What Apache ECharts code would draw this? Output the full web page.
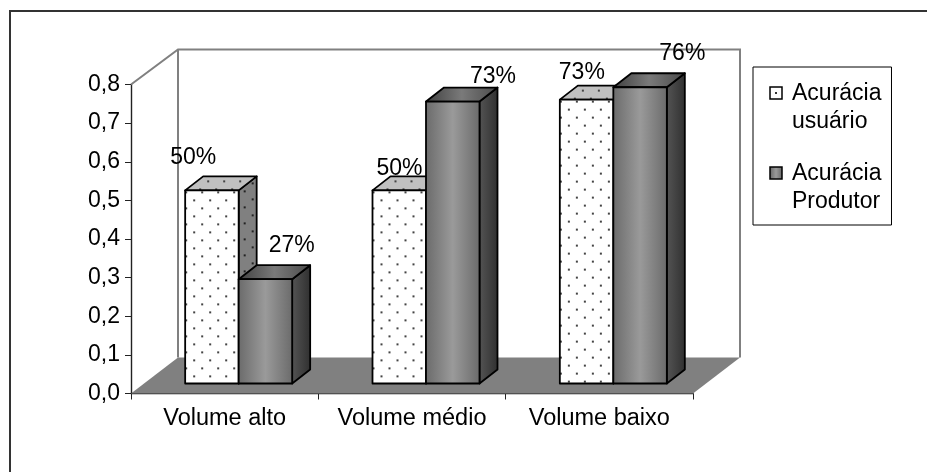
<!DOCTYPE html>
<html><head><meta charset="utf-8">
<style>html,body{margin:0;padding:0;background:#fff}#c{width:927px;height:472px}</style>
<script src="https://cdn.jsdelivr.net/npm/echarts@6/dist/echarts.min.js"></script>
</head><body><div id="c"></div>
<script>
const categories = ['Volume alto', 'Volume médio', 'Volume baixo'];
const seriesNames = ['Acurácia\nusuário', 'Acurácia\nProdutor'];
const usuarioValues = [0.50, 0.50, 0.735];
const produtorValues = [0.27, 0.73, 0.767];
const usuarioLabels = ['50%', '50%', '73%'];
const produtorLabels = ['27%', '73%', '76%'];
const yTicks = {min: 0, max: 0.8, interval: 0.1};

const FONT = '"Liberation Sans", Arial, sans-serif';
const FS = 23;
const WALL = {dx: 47, dy: -36};
const BAR = {dx: 18, dy: -14, w: 53.5, shiftX: -39.5, shiftY: -10};
const usuarioNudge = [[8,-32.5],[27,-21.5],[22,-26.5]];
const produtorNudge = [[53,-33.5],[67,-24.5],[69,-33.5]];

function dots(bg, dot) {
  const c = document.createElement('canvas'); c.width = 16; c.height = 16;
  const g = c.getContext('2d');
  g.fillStyle = bg; g.fillRect(0,0,16,16);
  g.fillStyle = dot;
  g.fillRect(0,0,2,2); g.fillRect(8,8,2,2);
  return c;
}
const pFront = dots('#fff', '#444'), pSide = dots('#808080', '#222'), pTop = dots('#c0c0c0', '#444');
const grad = (x2, y2, stops) => ({type:'linear', x:0, y:0, x2, y2, colorStops: stops.map((c,i)=>({offset:i/(stops.length-1), color:c}))});
const gFront = grad(1,0,['#6a6a6a','#9a9a9a','#6a6a6a']);
const gSide = grad(1,0,['#555','#2f2f2f']);
const gTop = grad(1,0,['#3f3f3f','#7a7a7a','#4a4a4a']);

function box(x, y, w, h, dx, dy, fFront, fSide, fTop) {
  const st = f => ({fill: f, stroke:'#000', lineWidth:1.8, lineJoin:'round'});
  const b = y + h;
  return [
    {type:'polygon', shape:{points:[[x+w,y],[x+w+dx,y+dy],[x+w+dx,b+dy],[x+w,b]]}, style: st(fSide)},
    {type:'polygon', shape:{points:[[x,y],[x+dx,y+dy],[x+w+dx,y+dy],[x+w,y]]}, style: st(fTop)},
    {type:'rect', shape:{x,y,width:w,height:h}, style: st(fFront)}
  ];
}
function barRender(serieIdx, labels, nudge) {
  return function (params, api) {
    const i = api.value(0), v = api.value(1);
    const c0 = api.coord([i, 0]), c1 = api.coord([i, v]);
    const left = c0[0] + BAR.shiftX + serieIdx * BAR.w;
    const top = c1[1] + BAR.shiftY, bottom = c0[1] + BAR.shiftY;
    const w = BAR.w, h = bottom - top;
    const pat = (img, ox, oy) => ({image: img, repeat:'repeat', x: ox, y: oy});
    const faces = serieIdx === 0
      ? box(left, top, w, h, BAR.dx, BAR.dy, pat(pFront, left+8, top+9), pat(pSide, left+w+5, top), pat(pTop, left+6, top-10))
      : box(left, top, w, h, BAR.dx, BAR.dy, gFront, gSide, gTop);
    faces.push({type:'text', style:{text: labels[i], x: left + nudge[i][0], y: top + nudge[i][1], align:'center', verticalAlign:'middle', font:`${FS}px ${FONT}`, fill:'#000'}});
    return {type:'group', children: faces};
  };
}
function wallRender(params, api) {
  const s = params.coordSys, L = s.x, R = s.x + s.width, T = s.y, B = s.y + s.height;
  const g = {stroke:'#808080', lineWidth:2, fill:null};
  return {type:'group', children:[
    {type:'polygon', shape:{points:[[L,B],[L+WALL.dx,B+WALL.dy],[R+WALL.dx,B+WALL.dy],[R,B]]}, style:{fill:'#808080'}},
    {type:'polyline', shape:{points:[[L,T],[L+WALL.dx,T+WALL.dy+1],[R+WALL.dx,T+WALL.dy+1],[R+WALL.dx,B+WALL.dy]]}, style:g},
    {type:'line', shape:{x1:L+WALL.dx,y1:T+WALL.dy+1,x2:L+WALL.dx,y2:B+WALL.dy}, style:g}
  ]};
}
function legendIcon(paint) {
  const c = document.createElement('canvas'); c.width = 14; c.height = 56;
  const g = c.getContext('2d');
  g.fillStyle = '#fff'; g.fillRect(0,0,14,56);
  paint(g);
  g.strokeStyle = '#000'; g.lineWidth = 1.5; g.strokeRect(1,7,12,12);
  return 'image://' + c.toDataURL();
}
const iconA = legendIcon(g => { g.fillStyle='#333'; g.fillRect(6,12,2,2); });
const iconB = legendIcon(g => { const l=g.createLinearGradient(1,0,13,0); l.addColorStop(0,'#6a6a6a'); l.addColorStop(.5,'#9a9a9a'); l.addColorStop(1,'#6a6a6a'); g.fillStyle=l; g.fillRect(1,7,12,12); });

const chart = echarts.init(document.getElementById('c'), null, {renderer:'canvas'});
chart.setOption({
  animation:false,
  backgroundColor:'#fff',
  grid:{left:131, top:84.5, width:562, height:309},
  graphic:[
    {type:'line', silent:true, shape:{x1:9,y1:11,x2:927,y2:11}, style:{stroke:'#333', lineWidth:2}},
    {type:'line', silent:true, shape:{x1:10,y1:10,x2:10,y2:472}, style:{stroke:'#333', lineWidth:2}}
  ],
  xAxis:{type:'category', data:categories,
    axisLine:{lineStyle:{color:'#222', width:1.4}}, axisTick:{show:true, length:6, alignWithLabel:false, lineStyle:{color:'#222'}},
    axisLabel:{color:'#000', fontFamily:FONT, fontSize:23.5, margin:13, interval:0}, splitLine:{show:false}},
  yAxis:{type:'value', min:yTicks.min, max:yTicks.max, interval:yTicks.interval,
    axisLine:{show:true, lineStyle:{color:'#222', width:1.4}}, axisTick:{show:true, length:6, lineStyle:{color:'#222'}},
    axisLabel:{color:'#000', fontFamily:FONT, fontSize:FS, margin:11, padding:[3,0,0,0], formatter:v=>v.toFixed(1).replace('.',',')}, splitLine:{show:false}},
  legend:{show:true, orient:'vertical', left:753, top:67, padding:[13,10,9,16], itemGap:24, itemWidth:14, itemHeight:56,
    borderColor:'#000', borderWidth:1, backgroundColor:'#fff',
    textStyle:{color:'#000', fontFamily:FONT, fontSize:FS, lineHeight:28, padding:[0,0,0,4]},
    data:[{name:seriesNames[0], icon:iconA},{name:seriesNames[1], icon:iconB}]},
  series:[
    {type:'custom', name:'walls', silent:true, z:1, renderItem:wallRender, data:[[0,0]], encode:{x:0,y:1}, clip:false},
    {type:'custom', name:seriesNames[0], z:2, renderItem:barRender(0, usuarioLabels, usuarioNudge), data:usuarioValues.map((v,i)=>[i,v]), encode:{x:0,y:1}, itemStyle:{color:'#fff'}},
    {type:'custom', name:seriesNames[1], z:3, renderItem:barRender(1, produtorLabels, produtorNudge), data:produtorValues.map((v,i)=>[i,v]), encode:{x:0,y:1}, itemStyle:{color:'#808080'}}
  ]
});
</script></body></html>
